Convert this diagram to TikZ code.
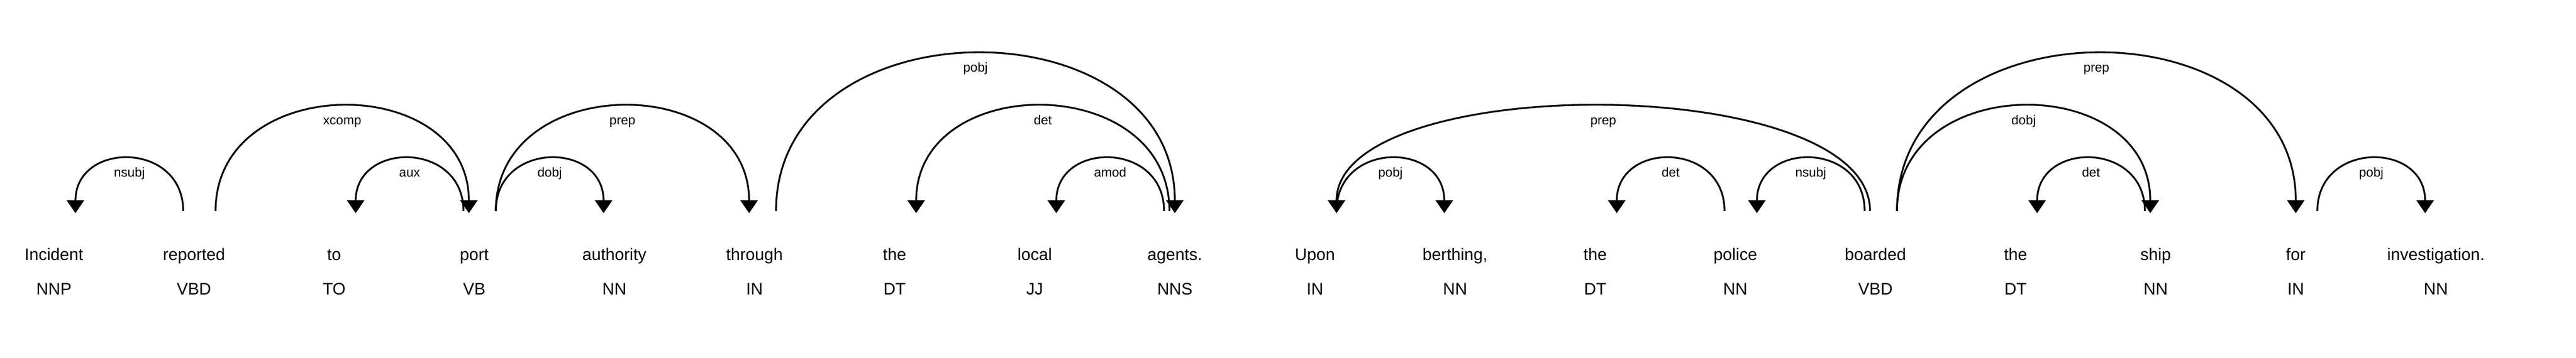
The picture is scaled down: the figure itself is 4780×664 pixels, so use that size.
\documentclass[tikz,border=0pt]{standalone}
\usepackage{fontspec}
\setmainfont{Liberation Sans}
\usetikzlibrary{arrows.meta,calc}

\newcommand{\deparc}[5]{%
  \draw[arc,#5] ($(w#1.base)+(40,-91)$)
    .. controls ($(w#1.base)+(40,{-91-130*#3})$) and ($(w#2.base)+({-10*(3-#3)},{-91-130*#3})$)
    .. node[lab] {#4} ($(w#2.base)+({-10*(3-#3)},-91)$);}

\begin{document}
\begin{tikzpicture}[x=1pt,y=-1pt,
    word/.style={anchor=base,inner sep=0,font=\fontsize{31}{37}\selectfont},
    tag/.style={anchor=base,inner sep=0,font=\fontsize{31}{37}\selectfont},
    lab/.style={anchor=base,inner sep=0,yshift=-34pt,font=\fontsize{24}{28}\selectfont},
    arc/.style={line width=3.3pt,>={Triangle[length=24pt,width=32pt]}},
    lt/.style={<-,shorten <=-4pt},
    rt/.style={->,shorten >=-4pt}]
    \useasboundingbox (0,0) rectangle (4780,664);
    \foreach \w/\t [count=\i from 0] in {Incident/NNP,reported/VBD,to/TO,port/VB,authority/NN,
        through/IN,the/DT,local/JJ,agents./NNS,Upon/IN,{berthing,}/NN,the/DT,police/NN,
        boarded/VBD,the/DT,ship/NN,for/IN,investigation./NN}{
        \node[word] (w\i) at ({100+260*\i},483) {\w};
        \node[tag] (t\i) at ({100+260*\i},547) {\t};
    }
    \deparc{0}{1}{1}{nsubj}{lt}
    \deparc{1}{3}{2}{xcomp}{rt}
    \deparc{2}{3}{1}{aux}{lt}
    \deparc{3}{4}{1}{dobj}{rt}
    \deparc{3}{5}{2}{prep}{rt}
    \deparc{5}{8}{3}{pobj}{rt}
    \deparc{6}{8}{2}{det}{lt}
    \deparc{7}{8}{1}{amod}{lt}
    \deparc{9}{13}{2}{prep}{lt}
    \deparc{9}{10}{1}{pobj}{rt}
    \deparc{11}{12}{1}{det}{lt}
    \deparc{12}{13}{1}{nsubj}{lt}
    \deparc{13}{15}{2}{dobj}{rt}
    \deparc{13}{16}{3}{prep}{rt}
    \deparc{14}{15}{1}{det}{lt}
    \deparc{16}{17}{1}{pobj}{rt}
\end{tikzpicture}
\end{document}
